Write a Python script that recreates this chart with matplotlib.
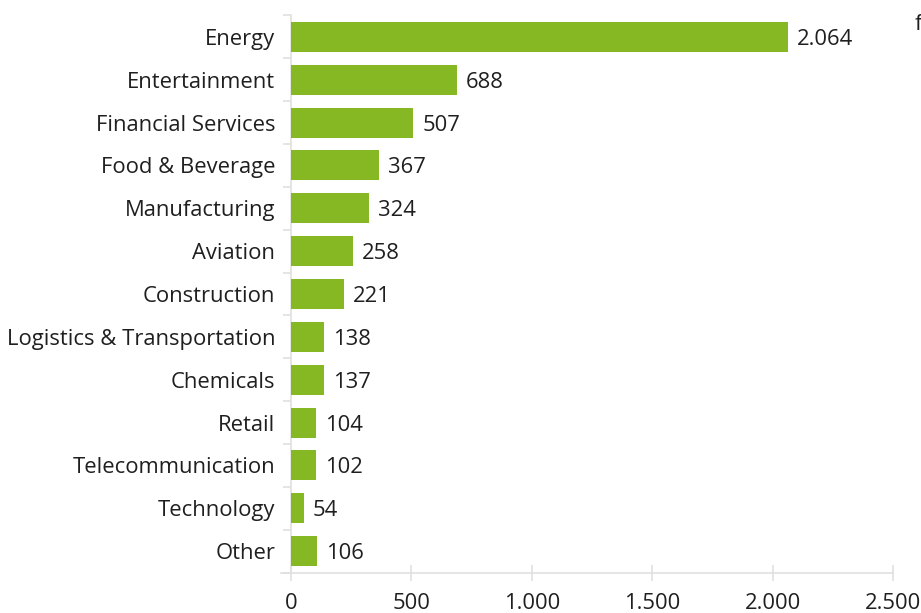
import matplotlib
matplotlib.use("Agg")
import matplotlib.pyplot as plt
from matplotlib.ticker import FuncFormatter

categories = ["Energy", "Entertainment", "Financial Services", "Food & Beverage",
              "Manufacturing", "Aviation", "Construction", "Logistics & Transportation",
              "Chemicals", "Retail", "Telecommunication", "Technology", "Other"]
values = [2064, 688, 507, 367, 324, 258, 221, 138, 137, 104, 102, 54, 106]
xticks = [0, 500, 1000, 1500, 2000, 2500]

plt.rcParams['font.family'] = ['Open Sans', 'DejaVu Sans']

W, H = 921, 613
fig = plt.figure(figsize=(W / 100, H / 100), dpi=100)
left, right, top, bottom = 291, 893, 15.5, 572.5
ax = fig.add_axes([left / W, 1 - bottom / H, (right - left) / W, (bottom - top) / H])

green = "#86b823"
grid = "#e0e0e0"
txt = "#1f1f1f"
fs = 15.8

n = len(categories)
ypos = list(range(n))
ax.barh(ypos, values, height=0.7, color=green, zorder=3)
ax.set_ylim(n - 0.5, -0.5)
ax.set_xlim(0, 2500)

def fmt(v):
    return f"{int(v):,}".replace(",", ".")

for y, v in zip(ypos, values):
    ax.annotate(fmt(v), (v, y), xytext=(6.5, 0), textcoords="offset points",
                va="center_baseline", ha="left", fontsize=fs, color=txt)

ax.set_yticks(ypos)
ax.set_yticklabels(categories, fontsize=fs, color=txt, va="center_baseline")
ax.tick_params(axis="y", length=0, pad=11.5)
ax.set_yticks([i - 0.5 for i in range(n + 1)], minor=True)
ax.tick_params(axis="y", which="minor", length=6, color=grid, width=1.2)

ax.set_xticks(xticks)
ax.xaxis.set_major_formatter(FuncFormatter(lambda v, p: fmt(v)))
ax.tick_params(axis="x", length=11, color=grid, width=1.2, labelsize=fs,
               labelcolor=txt, pad=9, direction="inout")
for s in ["top", "right"]:
    ax.spines[s].set_visible(False)
ax.spines["left"].set_color(grid)
ax.spines["bottom"].set_color(grid)
ax.spines["left"].set_linewidth(1.2)
ax.spines["bottom"].set_linewidth(1.2)
ax.spines["bottom"].set_bounds(-40, 2500)
for lbl in ax.get_xticklabels():
    lbl.set_clip_on(False)

fig.text(915 / W, 1 - 30 / H, "f", fontsize=fs, color=txt, ha="left", va="baseline")

fig.savefig("out.png", dpi=100)
